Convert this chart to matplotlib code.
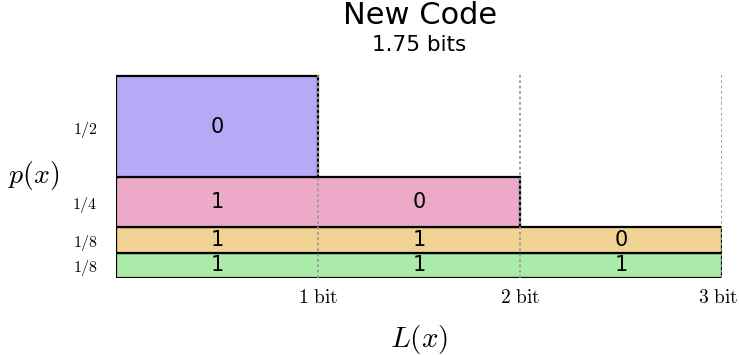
import matplotlib.pyplot as plt
import matplotlib.patches as mpatches
import matplotlib.transforms as mtransforms

plt.rcParams["mathtext.fontset"] = "cm"

# Code words: probability p(x) and code bits (length L(x) = len(code))
probs = [1 / 2, 1 / 4, 1 / 8, 1 / 8]
prob_labels = ["1/2", "1/4", "1/8", "1/8"]
codes = ["0", "10", "110", "111"]
colors = ["#b4aaf5", "#ecaac8", "#f0d292", "#aaebaa"]
bit_ticks = [1, 2, 3]
title = "New Code"
subtitle = "1.75 bits"

fig = plt.figure(figsize=(7.39, 3.55), dpi=100)
ax = fig.add_axes([0.157, 0.217, 0.820, 0.580])

# stack from the bottom: last item at the bottom
y = 0.0
centers = []
for p, code, c in reversed(list(zip(probs, codes, colors))):
    L = len(code)
    ax.add_patch(mpatches.Rectangle((0, y), L, p, facecolor=c, edgecolor="black", lw=1.6, zorder=2))
    for i, b in enumerate(code):
        ax.text(i + 0.5, y + p / 2, b, ha="center", va="center", fontsize=15, zorder=4)
    centers.append(y + p / 2)
    y += p
centers = centers[::-1]

for b in bit_ticks:
    ax.axvline(b, color="#999999", lw=1.3, ls=(0, (1.5, 1.5)), zorder=3)

ax.set_xlim(0, 3.0)
ax.set_ylim(0, 1.02)
for s in ax.spines.values():
    s.set_visible(False)
ax.tick_params(length=0)
ax.set_xticks(bit_ticks)
ax.set_xticklabels([r"$%d\ \mathrm{bit}$" % b for b in bit_ticks], fontsize=14)
ax.tick_params(axis="x", pad=7)
# nudge the last label so it stays inside the figure
last = ax.get_xticklabels()[-1]
last.set_transform(last.get_transform() + mtransforms.ScaledTranslation(-4 / 100, 0, fig.dpi_scale_trans))
ax.set_yticks(centers)
ax.set_yticklabels([r"$%s$" % s for s in prob_labels], fontsize=11.5)
ax.tick_params(axis="y", pad=13)
ax.set_xlabel(r"$L(x)$", fontsize=21, labelpad=12)
ax.set_ylabel(r"$p(x)$", fontsize=20, rotation=0, labelpad=28, va="center")

fig.text(0.568, 0.955, title, ha="center", va="center", fontsize=22)
fig.text(0.567, 0.872, subtitle, ha="center", va="center", fontsize=15.5)

fig.savefig("out.png", dpi=100)
